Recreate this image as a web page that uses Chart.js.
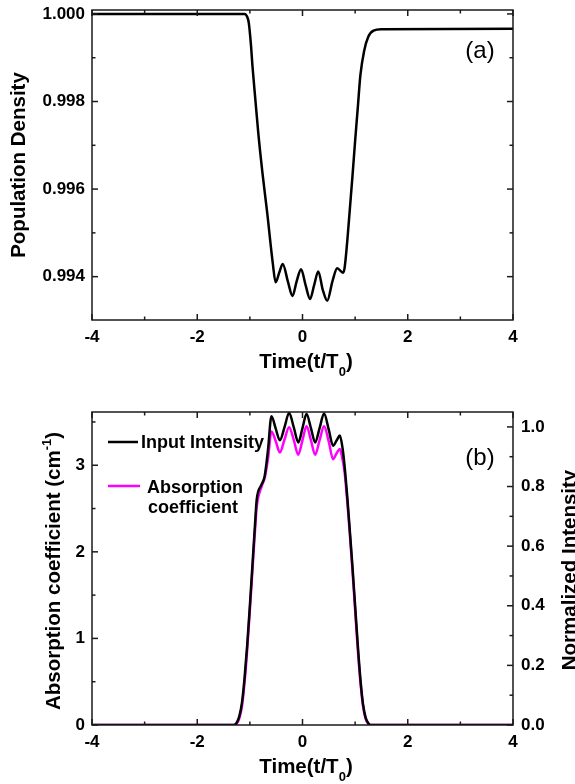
<!DOCTYPE html>
<html>
<head>
<meta charset="utf-8">
<script src="https://cdn.jsdelivr.net/npm/chart.js@4.4.1/dist/chart.umd.min.js"></script>
<style>
  html, body { margin: 0; padding: 0; background: #fff; }
  canvas { display: block; }
</style>
</head>
<body>
<canvas id="popChart" width="575" height="390"></canvas>
<canvas id="absChart" width="575" height="394"></canvas>
<script>
// time axis, t/T0
const timeTicks = [-4, -2, 0, 2, 4];
const timeMinor = [-3, -1, 1, 3];

// (a) population density
const popTime = [-4, -1.1, -1.05, -1.02, -0.98, -0.95, -0.9, -0.84, -0.76, -0.67, -0.565,
  -0.51, -0.44, -0.375, -0.28, -0.19, -0.11, -0.027, 0.06, 0.144, 0.22,
  0.30, 0.385, 0.47, 0.57, 0.66, 0.77, 0.80, 0.85, 0.9, 0.95,
  1.0, 1.05, 1.1, 1.17, 1.25, 1.35, 1.5, 4];
const popDensity = [1.0, 1.0, 0.99993, 0.99979, 0.9993, 0.9988, 0.9981, 0.99728, 0.99636, 0.99545, 0.99431,
  0.99387, 0.9941, 0.99429, 0.9939, 0.99356, 0.9939, 0.99417, 0.9938, 0.99349, 0.9938,
  0.99412, 0.9937, 0.99345, 0.9939, 0.99419, 0.99409, 0.9942, 0.9948, 0.99555, 0.9963,
  0.9971, 0.99785, 0.9986, 0.99915, 0.99948, 0.99962, 0.99965, 0.99966];
const popTicks = [0.994, 0.996, 0.998, 1.000];
const popMinor = [0.995, 0.997, 0.999];

// (b) input pulse and absorption coefficient
const pulseTime = [-4, -1.3, -1.25, -1.2, -1.15, -1.1, -1.05, -1.0, -0.95, -0.9,
  -0.87, -0.78, -0.72, -0.655, -0.59, -0.51, -0.43, -0.34, -0.255, -0.165,
  -0.08, 0.0, 0.076, 0.16, 0.24, 0.325, 0.41, 0.5, 0.58, 0.65,
  0.71, 0.76, 0.8, 0.855, 0.9, 0.95, 1.0, 1.05, 1.1, 1.15,
  1.2, 1.25, 1.3, 4];
const inputIntensity = [0, 0, 0.008, 0.03, 0.075, 0.16, 0.27, 0.40, 0.54, 0.68,
  0.756, 0.806, 0.834, 0.924, 1.036, 0.995, 0.955, 1.0, 1.047, 0.998,
  0.948, 0.996, 1.043, 0.996, 0.948, 0.996, 1.045, 0.99, 0.937, 0.955,
  0.971, 0.93, 0.868, 0.756, 0.65, 0.53, 0.40, 0.27, 0.155, 0.07,
  0.025, 0.006, 0, 0];
const absorptionCoef = [0, 0, 0.015, 0.08, 0.22, 0.5, 0.88, 1.33, 1.8, 2.27,
  2.52, 2.75, 2.85, 3.08, 3.39, 3.28, 3.148, 3.3, 3.44, 3.29,
  3.121, 3.29, 3.45, 3.29, 3.121, 3.29, 3.45, 3.27, 3.07, 3.14,
  3.187, 3.07, 2.92, 2.55, 2.2, 1.78, 1.33, 0.88, 0.5, 0.22,
  0.07, 0.015, 0, 0];
const absTicks = [0, 1, 2, 3];
const absMinor = [0.5, 1.5, 2.5, 3.5];
const intensityTicks = [0, 0.2, 0.4, 0.6, 0.8, 1.0];
const intensityMinor = [0.1, 0.3, 0.5, 0.7, 0.9];

const FONT = "'Liberation Sans', Arial, Helvetica, sans-serif";
Chart.defaults.font.family = FONT;
Chart.defaults.color = '#000';

function pts(xs, ys) {
  return xs.map((x, i) => ({ x: x, y: ys[i] }));
}

function setTicks(vals) {
  return function(scale) { scale.ticks = vals.map(v => ({ value: v })); };
}

// fixed axis sizes, no extra label padding, so the plot box sits where the figure has it
function fixWidth(w) {
  return function(s) { s.width = w; s.paddingTop = 0; s.paddingBottom = 0; };
}
function fixHeight(h) {
  return function(s) { s.height = h; s.paddingLeft = 0; s.paddingRight = 0; };
}

const tickFont = { size: 17, weight: 'bold' };
const TITLE = 20.5;

// box round the plot with inward tick marks on all four sides
const framePlugin = {
  id: 'frame',
  afterDatasetsDraw(chart, args, opts) {
    const ctx = chart.ctx, a = chart.chartArea;
    const xs = chart.scales.x;
    const yl = chart.scales[opts.left.scale], yr = chart.scales[opts.right.scale];
    ctx.save();
    ctx.strokeStyle = '#1a1a1a';
    ctx.lineWidth = 1.5;
    ctx.strokeRect(a.left, a.top, a.right - a.left, a.bottom - a.top);
    function seg(x1, y1, x2, y2) {
      ctx.beginPath(); ctx.moveTo(x1, y1); ctx.lineTo(x2, y2); ctx.stroke();
    }
    function xMarks(vals, len) {
      vals.forEach(v => {
        const p = xs.getPixelForValue(v);
        seg(p, a.bottom, p, a.bottom - len);
        seg(p, a.top, p, a.top + len);
      });
    }
    function yMarks(scale, vals, len, left) {
      vals.forEach(v => {
        const p = scale.getPixelForValue(v);
        if (p < a.top - 0.5 || p > a.bottom + 0.5) return;
        if (left) seg(a.left, p, a.left + len, p);
        else seg(a.right, p, a.right - len, p);
      });
    }
    xMarks(timeTicks, 6);
    xMarks(timeMinor, 3.5);
    yMarks(yl, opts.left.major, 6, true);
    yMarks(yl, opts.left.minor, 3.5, true);
    yMarks(yr, opts.right.major, 6, false);
    yMarks(yr, opts.right.minor, 3.5, false);
    ctx.restore();
  }
};

// text with sub/superscript parts, centred on (x, y) baseline, optionally rotated
function drawParts(ctx, parts, size, weight, x, y, rotate) {
  ctx.save();
  ctx.translate(x, y);
  if (rotate) ctx.rotate(-Math.PI / 2);
  ctx.textBaseline = 'alphabetic';
  ctx.textAlign = 'left';
  ctx.fillStyle = '#000';
  let total = 0;
  const runs = parts.map(p => {
    const fs = p.kind ? Math.round(size * 0.62) : size;
    ctx.font = weight + ' ' + fs + 'px ' + FONT;
    const w = ctx.measureText(p.text).width;
    total += w;
    const dy = p.kind === 'sub' ? size * 0.4 : (p.kind === 'sup' ? -size * 0.42 : 0);
    return { text: p.text, fs: fs, w: w, dy: dy };
  });
  let cx = -total / 2;
  runs.forEach(r => {
    ctx.font = weight + ' ' + r.fs + 'px ' + FONT;
    ctx.fillText(r.text, cx, r.dy);
    cx += r.w;
  });
  ctx.restore();
}

const textPlugin = {
  id: 'texts',
  afterDraw(chart, args, opts) {
    const ctx = chart.ctx;
    (opts.items || []).forEach(it => {
      drawParts(ctx, it.parts, it.size, it.weight || 'bold', it.x, it.y, it.rotate);
    });
    // legend, drawn from the datasets
    if (opts.legend) {
      const L = opts.legend;
      chart.data.datasets.forEach((ds, i) => {
        const row = L.rows[i];
        ctx.save();
        ctx.strokeStyle = ds.borderColor;
        ctx.lineWidth = 2.5;
        ctx.beginPath();
        ctx.moveTo(row.x0, row.ly);
        ctx.lineTo(row.x1, row.ly);
        ctx.stroke();
        ctx.fillStyle = '#000';
        ctx.font = 'bold 18px ' + FONT;
        ctx.textBaseline = 'alphabetic';
        ctx.textAlign = 'left';
        const words = row.split ? ds.label.split(' ') : [ds.label];
        words.forEach((w, k) => ctx.fillText(w, row.tx[k], row.ty[k]));
        ctx.restore();
      });
    }
  }
};

const timeTitle = [{ text: 'Time(t/T' }, { text: '0', kind: 'sub' }, { text: ')' }];

// (a)
new Chart(document.getElementById('popChart'), {
  type: 'line',
  data: {
    datasets: [{
      label: 'Population Density',
      data: pts(popTime, popDensity),
      borderColor: '#000',
      borderWidth: 2.5,
      pointRadius: 0,
      cubicInterpolationMode: 'monotone',
      fill: false
    }]
  },
  options: {
    responsive: false,
    animation: false,
    events: [],
    layout: { padding: { top: 10, right: 62, left: 0, bottom: 0 } },
    scales: {
      x: {
        type: 'linear', min: -4, max: 4,
        afterBuildTicks: setTicks(timeTicks),
        afterFit: fixHeight(70),
        ticks: { font: tickFont, padding: 7, autoSkip: false, maxRotation: 0, callback: v => String(v) },
        grid: { display: false, drawTicks: false },
        border: { display: false }
      },
      y: {
        min: 0.99301, max: 1.00009,
        afterBuildTicks: setTicks(popTicks),
        afterFit: fixWidth(92),
        ticks: { font: tickFont, padding: 7, autoSkip: false, callback: v => v.toFixed(3) },
        grid: { display: false, drawTicks: false },
        border: { display: false }
      }
    },
    plugins: {
      legend: { display: false },
      tooltip: { enabled: false },
      frame: {
        left: { scale: 'y', major: popTicks, minor: popMinor },
        right: { scale: 'y', major: popTicks, minor: popMinor }
      },
      texts: {
        items: [
          { parts: [{ text: 'Population Density' }], size: TITLE, x: 25, y: 165, rotate: true },
          { parts: timeTitle, size: TITLE, x: 306, y: 368 },
          { parts: [{ text: '(a)' }], size: 24, weight: 'normal', x: 480, y: 58 }
        ]
      }
    }
  },
  plugins: [framePlugin, textPlugin]
});

// (b)
new Chart(document.getElementById('absChart'), {
  type: 'line',
  data: {
    datasets: [{
      label: 'Input Intensity',
      data: pts(pulseTime, inputIntensity),
      yAxisID: 'y1',
      borderColor: '#000',
      borderWidth: 2.5,
      pointRadius: 0,
      cubicInterpolationMode: 'monotone',
      fill: false
    }, {
      label: 'Absorption coefficient',
      data: pts(pulseTime, absorptionCoef),
      yAxisID: 'y',
      borderColor: '#ff00ff',
      borderWidth: 2.5,
      pointRadius: 0,
      cubicInterpolationMode: 'monotone',
      fill: false
    }]
  },
  options: {
    responsive: false,
    animation: false,
    events: [],
    layout: { padding: { top: 22, right: 0, left: 0, bottom: 0 } },
    scales: {
      x: {
        type: 'linear', min: -4, max: 4,
        afterBuildTicks: setTicks(timeTicks),
        afterFit: fixHeight(59),
        ticks: { font: tickFont, padding: 7, autoSkip: false, maxRotation: 0, callback: v => String(v) },
        grid: { display: false, drawTicks: false },
        border: { display: false }
      },
      y: {
        position: 'left',
        min: 0, max: 3.615,
        afterBuildTicks: setTicks(absTicks),
        afterFit: fixWidth(92),
        ticks: { font: tickFont, padding: 7, autoSkip: false, callback: v => String(v) },
        grid: { display: false, drawTicks: false },
        border: { display: false }
      },
      y1: {
        position: 'right',
        min: 0, max: 1.05,
        afterBuildTicks: setTicks(intensityTicks),
        afterFit: fixWidth(62),
        ticks: { font: tickFont, padding: 8, autoSkip: false, callback: v => v.toFixed(1) },
        grid: { display: false, drawTicks: false },
        border: { display: false }
      }
    },
    plugins: {
      legend: { display: false },
      tooltip: { enabled: false },
      frame: {
        left: { scale: 'y', major: absTicks, minor: absMinor },
        right: { scale: 'y1', major: intensityTicks, minor: intensityMinor }
      },
      texts: {
        items: [
          { parts: [{ text: 'Absorption coefficient (cm' }, { text: '-1', kind: 'sup' }, { text: ')' }],
            size: TITLE, x: 60, y: 181, rotate: true },
          { parts: [{ text: 'Normalized Intensity' }], size: TITLE, x: 576, y: 180, rotate: true },
          { parts: timeTitle, size: TITLE, x: 306, y: 383 },
          { parts: [{ text: '(b)' }], size: 24, weight: 'normal', x: 480, y: 75 }
        ],
        legend: {
          rows: [
            { x0: 108, x1: 138, ly: 52, tx: [141], ty: [58] },
            { x0: 108, x1: 140, ly: 96, tx: [147, 148], ty: [103, 123], split: true }
          ]
        }
      }
    }
  },
  plugins: [framePlugin, textPlugin]
});
</script>
</body>
</html>
